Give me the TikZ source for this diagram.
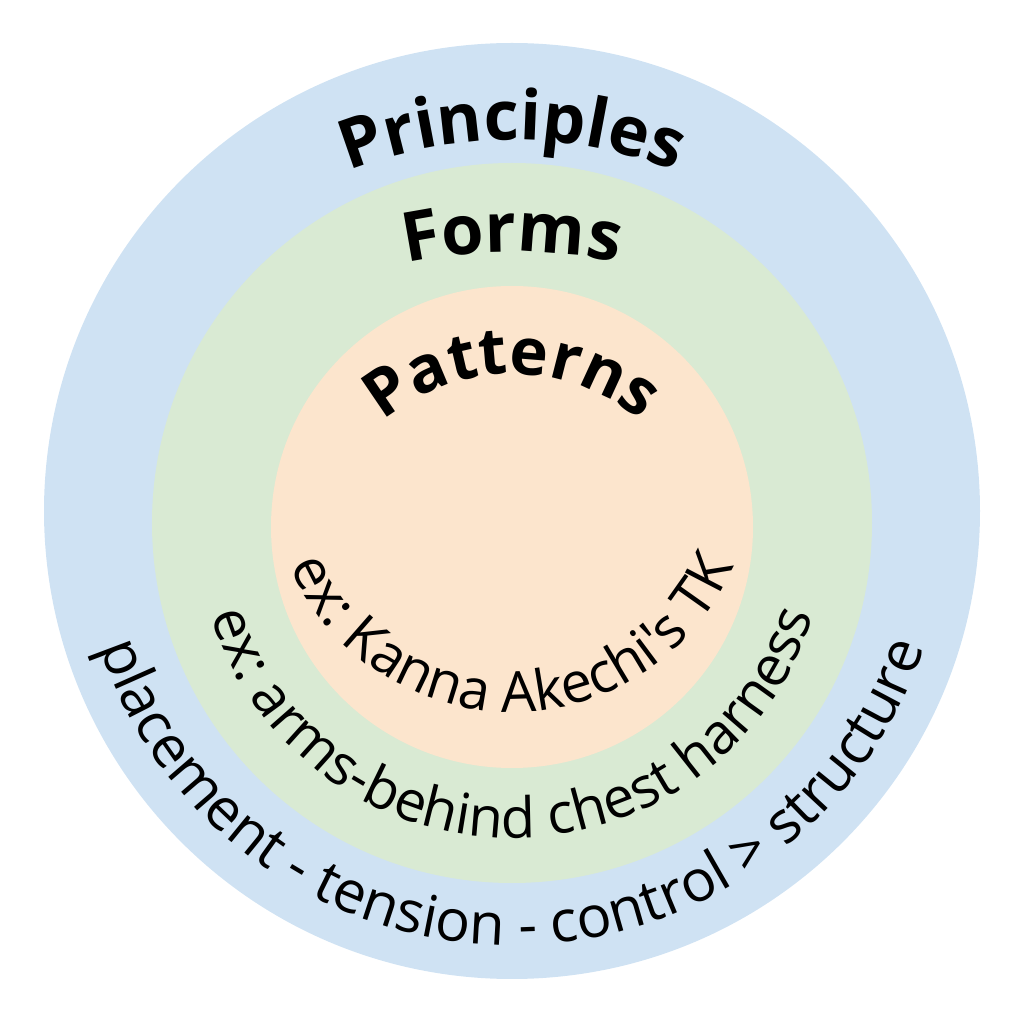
\documentclass[tikz,border=0pt]{standalone}
\usepackage{fontspec}
\newfontfamily\titlefont{Open Sans}
\newfontfamily\labelfont{Open Sans}
\usetikzlibrary{decorations.text}
\definecolor{ringblue}{HTML}{CFE2F3}
\definecolor{ringgreen}{HTML}{D9EAD3}
\definecolor{ringorange}{HTML}{FCE5CD}
\tikzset{
  ringfill/.style={fill=#1, draw=none},
  ringtext/.style={decorate, decoration={text along path, text align=center}},
}

\begin{document}
\begin{tikzpicture}
\useasboundingbox (0,0) rectangle (10.24,10.24);
\coordinate (principles) at (5.12,5.13);
\coordinate (forms) at (5.12,5.01);
\coordinate (patterns) at (5.12,4.97);
\path[ringfill=ringblue] (principles) circle (4.68);
\path[ringfill=ringgreen] (forms) circle (3.60);
\path[ringfill=ringorange] (patterns) circle (2.41);
% titles, read along the top
\path[ringtext, decoration={text={|\titlefont\bfseries\fontsize{19.5}{24}\selectfont|Principles}}]
  (5.12,4.44) ++(180:4.4) arc[start angle=180, end angle=0, radius=4.4];
\path[ringtext, decoration={text={|\titlefont\bfseries\fontsize{19.5}{24}\selectfont|Forms}}]
  (5.12,2.72) ++(180:5.0) arc[start angle=180, end angle=0, radius=5.0];
\path[ringtext, decoration={text={|\titlefont\bfseries\fontsize{18.5}{22}\selectfont|Patterns}}]
  (5.12,4.50) ++(180:2.0) arc[start angle=180, end angle=0, radius=2.0];
% examples, read along the bottom
\path[ringtext, decoration={text={|\labelfont\fontsize{16.5}{20}\selectfont|placement - tension - control > structure}}]
  (principles) ++(180:4.34) arc[start angle=180, end angle=360, radius=4.34];
\path[ringtext, decoration={text={|\labelfont\fontsize{16}{20}\selectfont|ex: arms-behind chest harness}}]
  (forms) ++(180:3.15) arc[start angle=180, end angle=360, radius=3.15];
\path[ringtext, decoration={text={|\labelfont\fontsize{16}{20}\selectfont|ex: Kanna Akechi's TK}}]
  (5.12,5.54) ++(180:2.42) arc[start angle=180, end angle=360, radius=2.42];
\end{tikzpicture}
\end{document}
